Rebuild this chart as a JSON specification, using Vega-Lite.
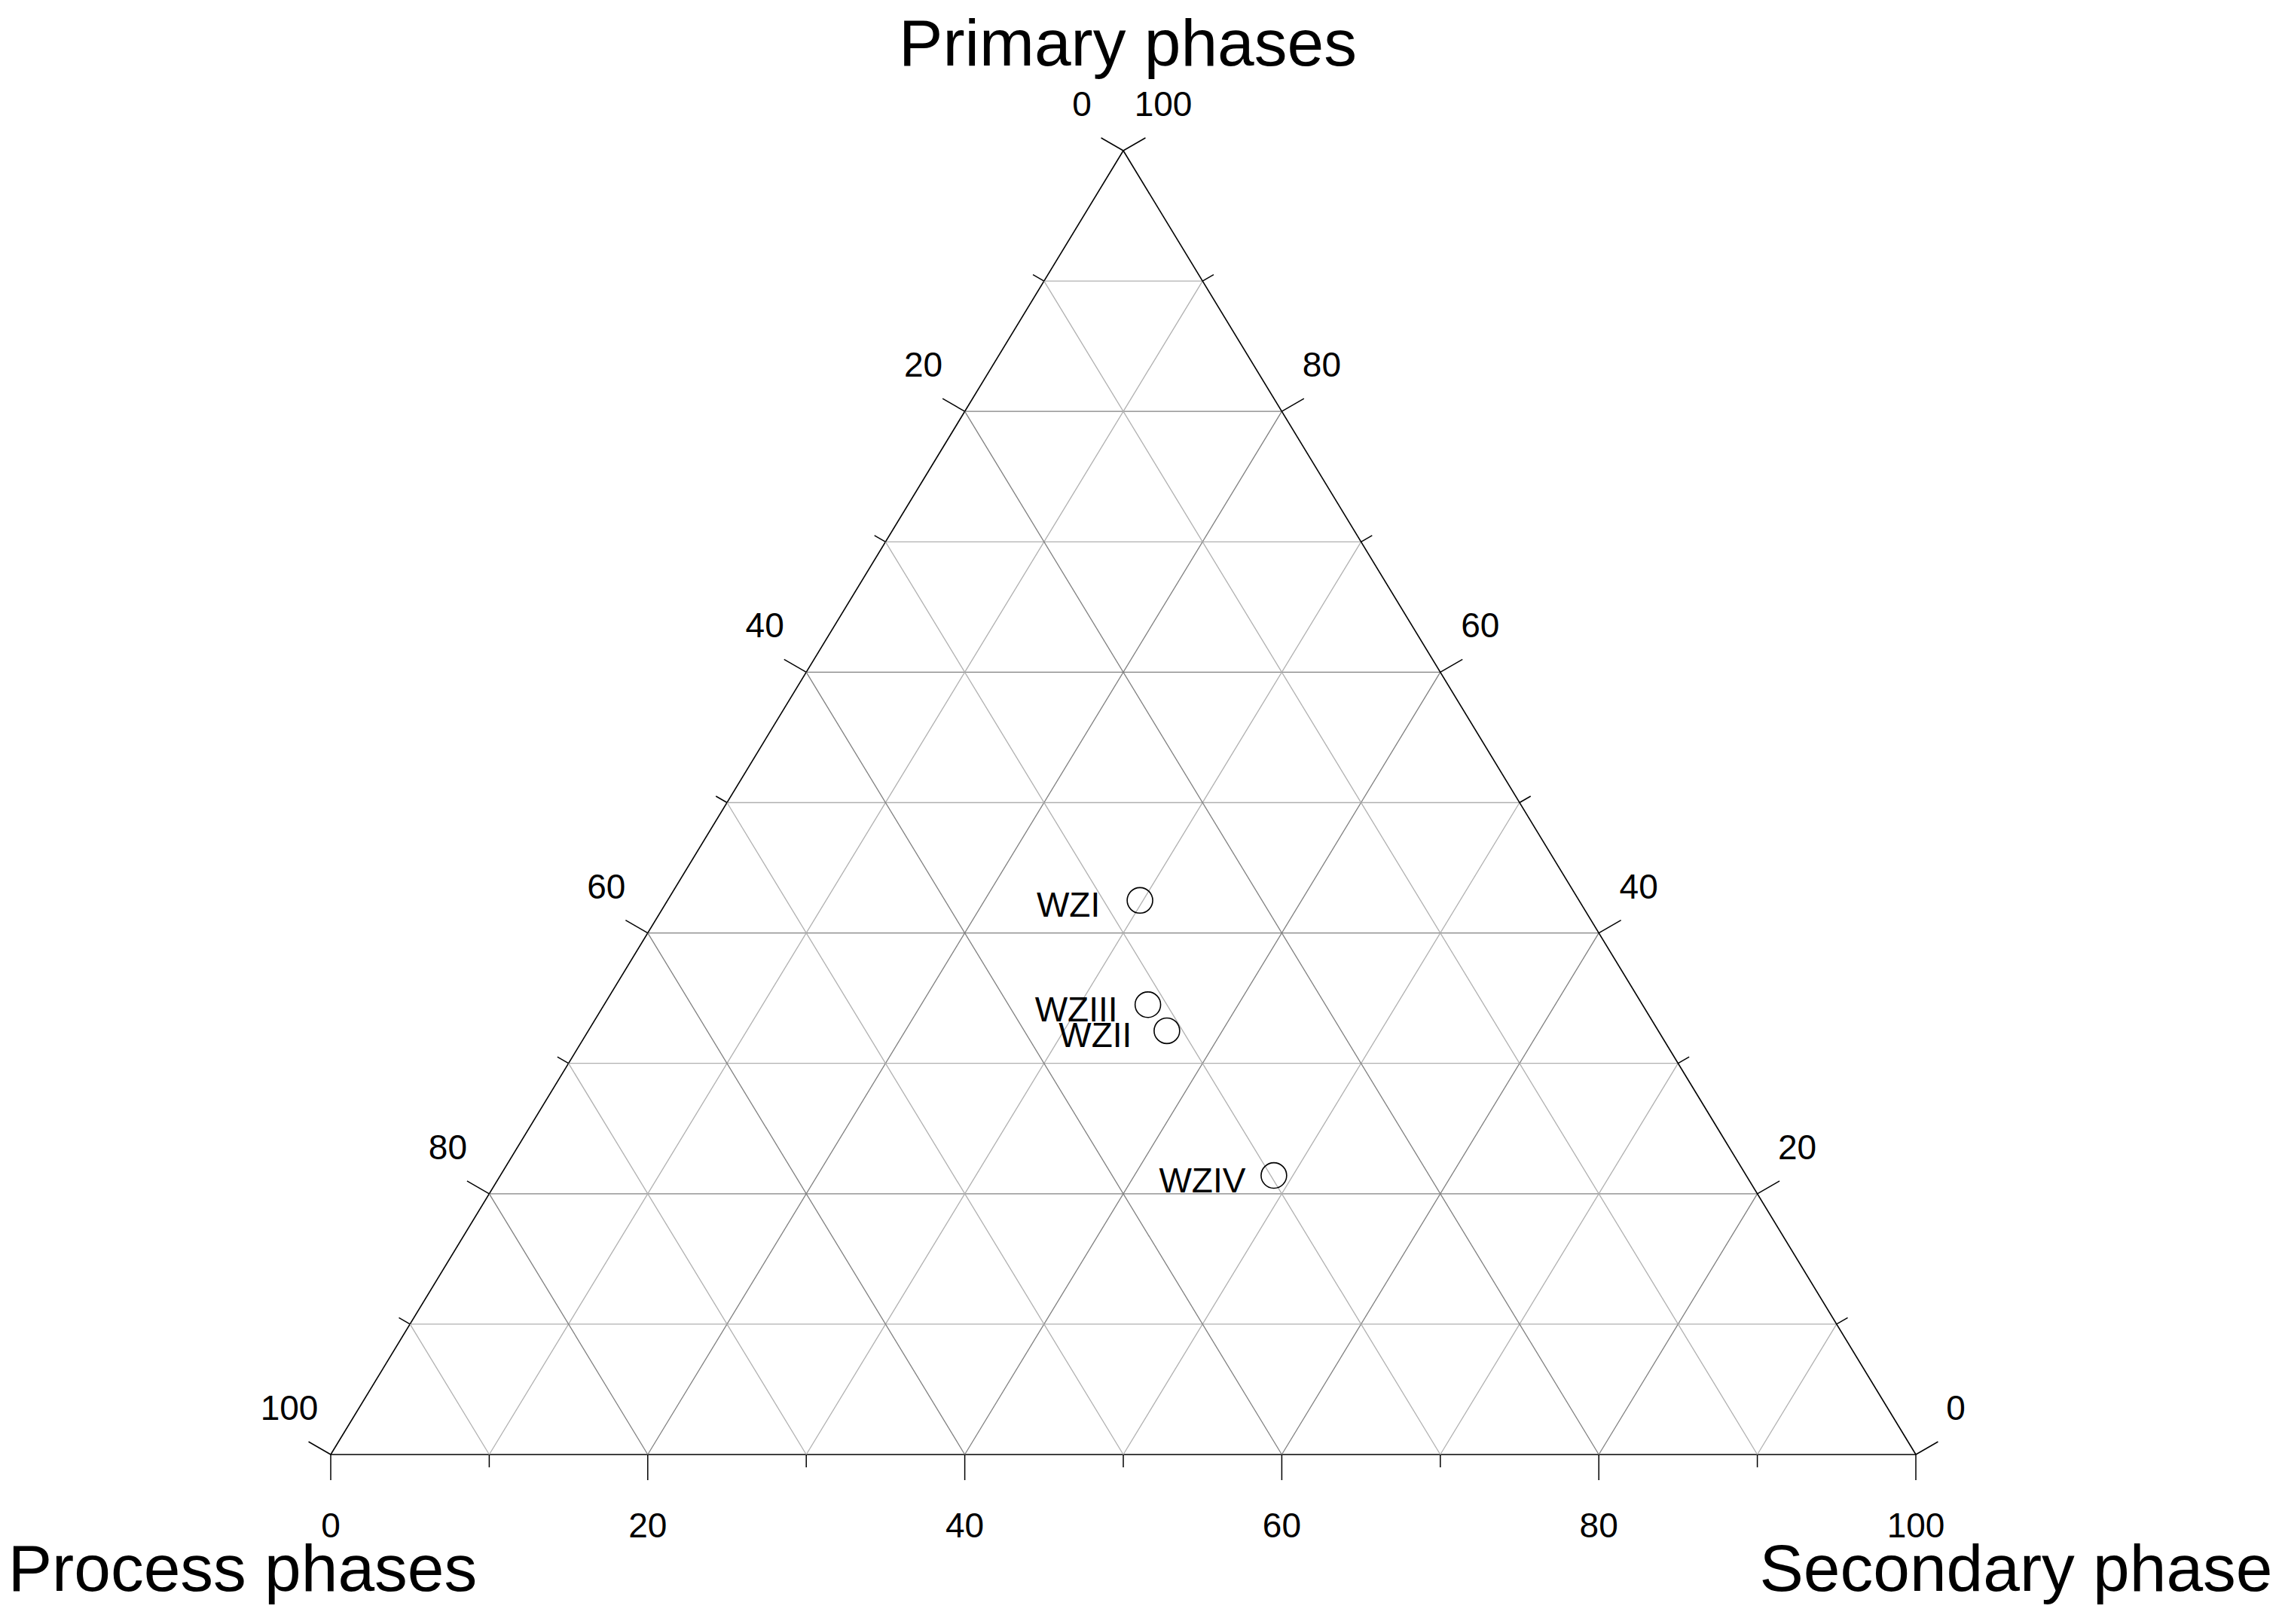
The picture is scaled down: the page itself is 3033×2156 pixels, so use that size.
{
  "$schema": "https://vega.github.io/schema/vega-lite/v6.json",
  "width": 2104,
  "height": 1731,
  "autosize": {"type": "none"},
  "padding": {"left": 439, "top": 200, "right": 490, "bottom": 225},
  "background": "white",
  "config": {"view": {"stroke": null}, "font": "Liberation Sans"},
  "datasets": {
    "levels": [
      {"value": 0}, {"value": 10}, {"value": 20}, {"value": 30}, {"value": 40}, {"value": 50},
      {"value": 60}, {"value": 70}, {"value": 80}, {"value": 90}, {"value": 100}
    ],
    "samples": [
      {"sample": "WZI", "primary": 42.5, "secondary": 29.8, "process": 27.7},
      {"sample": "WZII", "primary": 32.5, "secondary": 36.5, "process": 31.0},
      {"sample": "WZIII", "primary": 34.5, "secondary": 34.3, "process": 31.2},
      {"sample": "WZIV", "primary": 21.4, "secondary": 48.8, "process": 29.8}
    ],
    "corners": [
      {"title": "Primary phases", "primary": 100, "secondary": 0, "process": 0},
      {"title": "Process phases", "primary": 0, "secondary": 0, "process": 100},
      {"title": "Secondary phase", "primary": 0, "secondary": 100, "process": 0}
    ]
  },
  "layer": [
    {
      "data": {"name": "levels"},
      "transform": [
        {"filter": "datum.value < 100"},
        {"calculate": "datum.value / 2", "as": "x1"},
        {"calculate": "datum.value", "as": "y1"},
        {"calculate": "100 - datum.value / 2", "as": "x2"},
        {"calculate": "datum.value", "as": "y2"}
      ],
      "mark": {"type": "rule"},
      "encoding": {
        "x": {"field": "x1", "type": "quantitative", "scale": {"domain": [0, 100], "nice": false, "zero": false}, "axis": null},
        "y": {"field": "y1", "type": "quantitative", "scale": {"domain": [0, 100], "nice": false, "zero": false}, "axis": null},
        "x2": {"field": "x2"},
        "y2": {"field": "y2"},
        "color": {"condition": [{"test": "datum.value == 0", "value": "#000000"}, {"test": "datum.value % 20 == 0", "value": "#808080"}], "value": "#b0b0b0"},
        "strokeWidth": {"condition": {"test": "datum.value == 0", "value": 1.6}, "value": 1.3}
      }
    },
    {
      "data": {"name": "levels"},
      "transform": [
        {"filter": "datum.value < 100"},
        {"calculate": "datum.value", "as": "x1"},
        {"calculate": "0", "as": "y1"},
        {"calculate": "50 + datum.value / 2", "as": "x2"},
        {"calculate": "100 - datum.value", "as": "y2"}
      ],
      "mark": {"type": "rule"},
      "encoding": {
        "x": {"field": "x1", "type": "quantitative"},
        "y": {"field": "y1", "type": "quantitative"},
        "x2": {"field": "x2"},
        "y2": {"field": "y2"},
        "color": {"condition": [{"test": "datum.value == 0", "value": "#000000"}, {"test": "datum.value % 20 == 0", "value": "#808080"}], "value": "#b0b0b0"},
        "strokeWidth": {"condition": {"test": "datum.value == 0", "value": 1.6}, "value": 1.3}
      }
    },
    {
      "data": {"name": "levels"},
      "transform": [
        {"filter": "datum.value < 100"},
        {"calculate": "100 - datum.value", "as": "x1"},
        {"calculate": "0", "as": "y1"},
        {"calculate": "(100 - datum.value) / 2", "as": "x2"},
        {"calculate": "100 - datum.value", "as": "y2"}
      ],
      "mark": {"type": "rule"},
      "encoding": {
        "x": {"field": "x1", "type": "quantitative"},
        "y": {"field": "y1", "type": "quantitative"},
        "x2": {"field": "x2"},
        "y2": {"field": "y2"},
        "color": {"condition": [{"test": "datum.value == 0", "value": "#000000"}, {"test": "datum.value % 20 == 0", "value": "#808080"}], "value": "#b0b0b0"},
        "strokeWidth": {"condition": {"test": "datum.value == 0", "value": 1.6}, "value": 1.3}
      }
    },
    {
      "data": {"name": "levels"},
      "transform": [
        {"calculate": "(100 - datum.value) / 2", "as": "px"},
        {"calculate": "100 - datum.value", "as": "py"}
      ],
      "mark": {"type": "point", "shape": "M0,0L-0.866,-0.5", "filled": false, "stroke": "#000000", "strokeWidth": 1.5, "opacity": 1},
      "encoding": {
        "x": {"field": "px", "type": "quantitative"},
        "y": {"field": "py", "type": "quantitative"},
        "size": {"condition": {"test": "datum.value % 20 == 0", "value": 4624}, "value": 1156}
      }
    },
    {
      "data": {"name": "levels"},
      "transform": [
        {"calculate": "100 - datum.value / 2", "as": "px"},
        {"calculate": "datum.value", "as": "py"}
      ],
      "mark": {"type": "point", "shape": "M0,0L0.866,-0.5", "filled": false, "stroke": "#000000", "strokeWidth": 1.5, "opacity": 1},
      "encoding": {
        "x": {"field": "px", "type": "quantitative"},
        "y": {"field": "py", "type": "quantitative"},
        "size": {"condition": {"test": "datum.value % 20 == 0", "value": 4624}, "value": 1156}
      }
    },
    {
      "data": {"name": "levels"},
      "transform": [
        {"calculate": "datum.value", "as": "px"},
        {"calculate": "0", "as": "py"}
      ],
      "mark": {"type": "point", "shape": "M0,0L0,1", "filled": false, "stroke": "#000000", "strokeWidth": 1.5, "opacity": 1},
      "encoding": {
        "x": {"field": "px", "type": "quantitative"},
        "y": {"field": "py", "type": "quantitative"},
        "size": {"condition": {"test": "datum.value % 20 == 0", "value": 4624}, "value": 1156}
      }
    },
    {
      "data": {"name": "levels"},
      "transform": [
        {"filter": "datum.value % 20 == 0"},
        {"calculate": "(100 - datum.value) / 2", "as": "px"},
        {"calculate": "100 - datum.value", "as": "py"}
      ],
      "mark": {"type": "text", "align": "center", "baseline": "alphabetic", "dx": -55, "dy": -46, "fontSize": 46, "color": "#000000"},
      "encoding": {
        "x": {"field": "px", "type": "quantitative"},
        "y": {"field": "py", "type": "quantitative"},
        "text": {"field": "value", "type": "quantitative"}
      }
    },
    {
      "data": {"name": "levels"},
      "transform": [
        {"filter": "datum.value % 20 == 0"},
        {"calculate": "100 - datum.value / 2", "as": "px"},
        {"calculate": "datum.value", "as": "py"}
      ],
      "mark": {"type": "text", "align": "center", "baseline": "alphabetic", "dx": 53, "dy": -46, "fontSize": 46, "color": "#000000"},
      "encoding": {
        "x": {"field": "px", "type": "quantitative"},
        "y": {"field": "py", "type": "quantitative"},
        "text": {"field": "value", "type": "quantitative"}
      }
    },
    {
      "data": {"name": "levels"},
      "transform": [
        {"filter": "datum.value % 20 == 0"},
        {"calculate": "datum.value", "as": "px"},
        {"calculate": "0", "as": "py"}
      ],
      "mark": {"type": "text", "align": "center", "baseline": "alphabetic", "dx": 0, "dy": 110, "fontSize": 46, "color": "#000000"},
      "encoding": {
        "x": {"field": "px", "type": "quantitative"},
        "y": {"field": "py", "type": "quantitative"},
        "text": {"field": "value", "type": "quantitative"}
      }
    },
    {
      "data": {"name": "corners"},
      "transform": [
        {"filter": "datum.title == 'Primary phases'"},
        {"calculate": "datum.secondary + datum.primary / 2", "as": "px"},
        {"calculate": "datum.primary", "as": "py"}
      ],
      "mark": {"type": "text", "align": "center", "baseline": "alphabetic", "dx": 6, "dy": -113, "fontSize": 87.5, "color": "#000000"},
      "encoding": {
        "x": {"field": "px", "type": "quantitative"},
        "y": {"field": "py", "type": "quantitative"},
        "text": {"field": "title", "type": "nominal"}
      }
    },
    {
      "data": {"name": "corners"},
      "transform": [
        {"filter": "datum.title == 'Process phases'"},
        {"calculate": "datum.secondary + datum.primary / 2", "as": "px"},
        {"calculate": "datum.primary", "as": "py"}
      ],
      "mark": {"type": "text", "align": "center", "baseline": "alphabetic", "dx": -117, "dy": 181, "fontSize": 87.5, "color": "#000000"},
      "encoding": {
        "x": {"field": "px", "type": "quantitative"},
        "y": {"field": "py", "type": "quantitative"},
        "text": {"field": "title", "type": "nominal"}
      }
    },
    {
      "data": {"name": "corners"},
      "transform": [
        {"filter": "datum.title == 'Secondary phase'"},
        {"calculate": "datum.secondary + datum.primary / 2", "as": "px"},
        {"calculate": "datum.primary", "as": "py"}
      ],
      "mark": {"type": "text", "align": "center", "baseline": "alphabetic", "dx": 133, "dy": 181, "fontSize": 87.5, "color": "#000000"},
      "encoding": {
        "x": {"field": "px", "type": "quantitative"},
        "y": {"field": "py", "type": "quantitative"},
        "text": {"field": "title", "type": "nominal"}
      }
    },
    {
      "data": {"name": "samples"},
      "transform": [
        {"calculate": "datum.secondary + datum.primary / 2", "as": "px"},
        {"calculate": "datum.primary", "as": "py"}
      ],
      "mark": {"type": "point", "shape": "circle", "filled": false, "stroke": "#000000", "strokeWidth": 1.6, "size": 1150, "opacity": 1},
      "encoding": {
        "x": {"field": "px", "type": "quantitative"},
        "y": {"field": "py", "type": "quantitative"}
      }
    },
    {
      "data": {"name": "samples"},
      "transform": [
        {"calculate": "datum.secondary + datum.primary / 2", "as": "px"},
        {"calculate": "datum.primary", "as": "py"}
      ],
      "mark": {"type": "text", "align": "center", "baseline": "alphabetic", "dx": -95, "dy": 22, "fontSize": 46, "color": "#000000"},
      "encoding": {
        "x": {"field": "px", "type": "quantitative"},
        "y": {"field": "py", "type": "quantitative"},
        "text": {"field": "sample", "type": "nominal"}
      }
    }
  ]
}
